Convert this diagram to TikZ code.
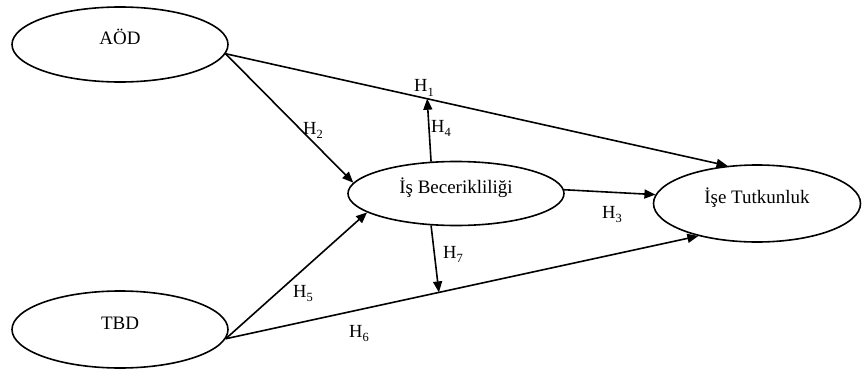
\documentclass[tikz,border=0pt]{standalone}
\usepackage{fontspec}
\setmainfont{Liberation Serif}
\usetikzlibrary{shapes.geometric,arrows.meta,calc}
\newcommand{\hyp}[1]{H\raisebox{-0.22em}{\fontsize{12.5}{13}\selectfont #1}}
\begin{document}
\begin{tikzpicture}[x=1pt,y=-1pt,
  latent/.style={ellipse,draw,line width=1.6pt,inner sep=0pt,
    text height=15pt,text depth=15pt,font=\fontsize{19}{22}\selectfont},
  patharrow/.style={line width=1.6pt,-{Triangle[length=11pt,width=9pt]}},
  hlab/.style={anchor=base west,inner sep=0pt,font=\fontsize{18.5}{20}\selectfont}]
\useasboundingbox (0,0) rectangle (862,369);
\fill[white] (0,0) rectangle (862,369);

\node[latent,minimum width=216pt,minimum height=75pt] (aod) at (120,44.5) {AÖD};
\node[latent,minimum width=216pt,minimum height=77pt] (tbd) at (120,329.5) {TBD};
\node[latent,minimum width=216pt,minimum height=64pt] (isb) at (456,193.5) {İş Becerikliliği};
\node[latent,minimum width=207pt,minimum height=77pt] (tut) at (757,203.5) {İşe Tutkunluk};

% H1: AÖD -> İşe Tutkunluk
\draw[patharrow] (aod.-5) -- (tut.128);
% H2: AÖD -> İş Becerikliliği
\draw[patharrow] (aod.-5) -- (isb.174);
% H3: İş Becerikliliği -> İşe Tutkunluk
\draw[patharrow] (isb.2) -- (tut.175);
% H5: TBD -> İş Becerikliliği
\draw[patharrow] (tbd.-5) -- (isb.192);
% H6: TBD -> İşe Tutkunluk
\draw[patharrow] (tbd.-5) -- (tut.209);

% moderating arrows onto paths
\coordinate (h4end) at ($(aod.-5)!0.4016!(tut.128)$);
\coordinate (h7end) at ($(tbd.-5)!0.451!(tut.209)$);
\draw[patharrow] (isb.128) -- (h4end);
\draw[patharrow] (isb.232) -- (h7end);

% labels
\node[hlab] (l1) at (414,92) {\hyp{1}};
\node[hlab] (l2) at (303,134) {\hyp{2}};
\node[hlab] (l3) at (602,218) {\hyp{3}};
\node[hlab] (l4) at (431,132) {\hyp{4}};
\node[hlab] (l5) at (293,297) {\hyp{5}};
\node[hlab] (l6) at (349,337) {\hyp{6}};
\node[hlab] (l7) at (443,258) {\hyp{7}};
\end{tikzpicture}
\end{document}
